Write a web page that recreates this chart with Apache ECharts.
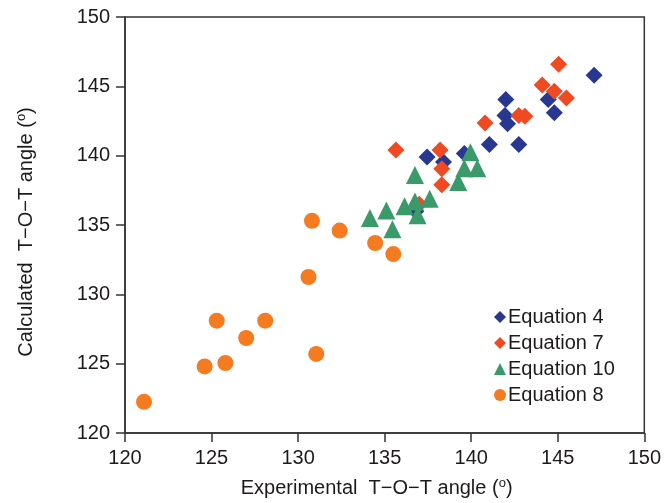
<!DOCTYPE html>
<html>
<head>
<meta charset="utf-8">
<script src="https://cdn.jsdelivr.net/npm/echarts@6/dist/echarts.min.js"></script>
<style>
  html, body { margin: 0; padding: 0; background: #fff; }
  #chart { width: 664px; height: 503px; }
</style>
</head>
<body>
<div id="chart"></div>
<script>
// Experimental vs calculated T-O-T angles (degrees), [experimental, calculated]
const eq4 = [
  [147.1, 145.8], [142.0, 144.05], [141.95, 142.9], [142.1, 142.3],
  [144.45, 144.05], [144.8, 143.1], [141.05, 140.8], [142.75, 140.8],
  [137.45, 139.9], [138.4, 139.55], [139.6, 140.15], [136.8, 136.0]
];
const eq7 = [
  [145.05, 146.6], [144.1, 145.1], [144.8, 144.65], [145.5, 144.15],
  [142.75, 142.9], [143.1, 142.85], [140.8, 142.35], [135.65, 140.4],
  [138.2, 140.4], [138.3, 139.05], [138.3, 137.9], [137.0, 136.5]
];
const eq10 = [
  [134.15, 135.5], [135.1, 136.05], [135.45, 134.7], [136.15, 136.35],
  [136.75, 136.7], [136.9, 135.7], [137.6, 136.9], [136.75, 138.6],
  [139.25, 138.1], [139.6, 139.1], [140.35, 139.1], [139.95, 140.25]
];
const eq8 = [
  [121.1, 122.25], [124.6, 124.8], [125.8, 125.05], [125.3, 128.1],
  [127.0, 126.85], [128.1, 128.1], [131.05, 125.7], [130.6, 131.25],
  [130.8, 135.3], [132.4, 134.6], [134.45, 133.7], [135.5, 132.9]
];

const seriesNames = ['Equation 4', 'Equation 7', 'Equation 10', 'Equation 8'];
const axisMin = 120, axisMax = 150, axisStep = 5;

const textColor = '#1e1a1b';
const lineColor = '#333333';
const font = 'Liberation Sans, Arial, sans-serif';

const chart = echarts.init(document.getElementById('chart'), null, { renderer: 'canvas' });

function axisCommon(nameText, gap, pad) {
  return {
    type: 'value',
    min: axisMin, max: axisMax, interval: axisStep,
    name: nameText,
    nameLocation: 'middle',
    nameGap: gap,
    nameTextStyle: {
      color: textColor, fontFamily: font, fontSize: 20, padding: pad,
      rich: {
        sup: { fontSize: 13, fontFamily: font, color: textColor, verticalAlign: 'top', padding: [0, 0, 9, 0] }
      }
    },
    axisLine: { show: true, onZero: false, lineStyle: { color: lineColor, width: 1.5 } },
    axisTick: { show: true, inside: false, length: 9, lineStyle: { color: lineColor, width: 1.5 } },
    axisLabel: { color: textColor, fontFamily: font, fontSize: 20, margin: 15 },
    splitLine: { show: false }
  };
}

chart.setOption({
  animation: false,
  backgroundColor: '#ffffff',
  grid: {
    left: 125, right: 18, top: 17, bottom: 68,
    show: true, borderColor: lineColor, borderWidth: 1.5, backgroundColor: 'transparent'
  },
  legend: {
    orient: 'vertical',
    left: 494, top: 307,
    padding: 0,
    itemWidth: 12, itemHeight: 12, itemGap: 6,
    textStyle: { color: textColor, fontFamily: font, fontSize: 20, lineHeight: 20, padding: [0, 0, 0, -3] },
    data: [
      { name: seriesNames[0], icon: 'diamond' },
      { name: seriesNames[1], icon: 'diamond' },
      { name: seriesNames[2], icon: 'triangle' },
      { name: seriesNames[3], icon: 'circle' }
    ]
  },
  xAxis: axisCommon('Experimental  T\u2212O\u2212T angle ({sup|o})', 44, [0, 16, 0, 0]),
  yAxis: axisCommon('Calculated  T\u2212O\u2212T angle ({sup|o})', 88, [0, 14, 0, 0]),
  series: [
    { name: seriesNames[0], type: 'scatter', symbol: 'diamond', symbolSize: 17,
      itemStyle: { color: '#283891', opacity: 1 }, data: eq4, z: 2 },
    { name: seriesNames[1], type: 'scatter', symbol: 'diamond', symbolSize: 17,
      itemStyle: { color: '#f04a23', opacity: 1 }, data: eq7, z: 3 },
    { name: seriesNames[2], type: 'scatter', symbol: 'triangle', symbolSize: 18,
      itemStyle: { color: '#3a9a6a', opacity: 1 }, data: eq10, z: 4 },
    { name: seriesNames[3], type: 'scatter', symbol: 'circle', symbolSize: 16,
      itemStyle: { color: '#f47b20', opacity: 1 }, data: eq8, z: 4 }
  ]
});
</script>
</body>
</html>
